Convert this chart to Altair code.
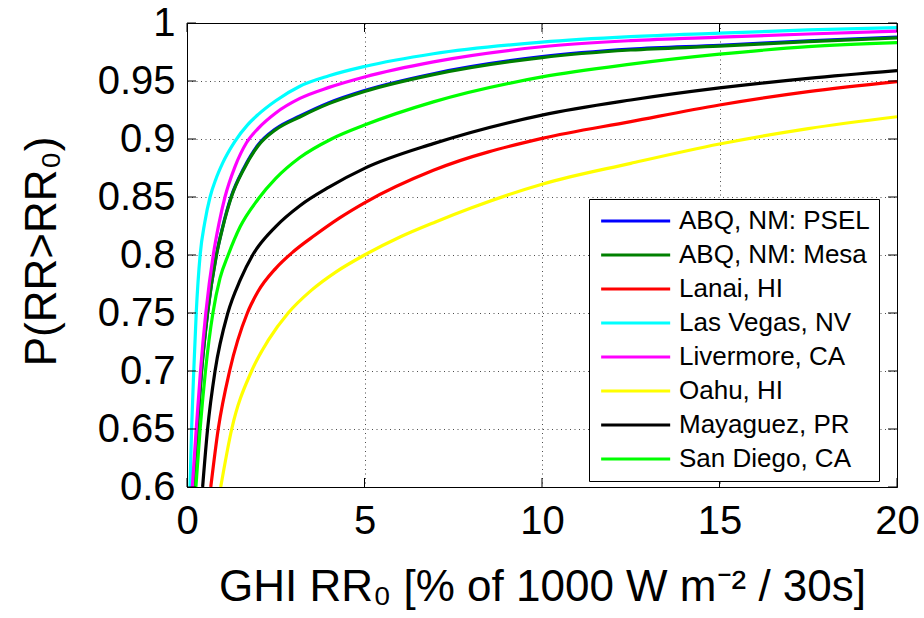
import altair as alt
import pandas as pd

names = ["ABQ, NM: PSEL", "ABQ, NM: Mesa", "Lanai, HI", "Las Vegas, NV",
         "Livermore, CA", "Oahu, HI", "Mayaguez, PR", "San Diego, CA"]
colors = ["#0000ff", "#008000", "#ff0000", "#00ffff",
          "#ff00ff", "#ffff00", "#000000", "#00ff00"]

mesa_x = [0.17, 0.29, 0.41, 0.58, 0.83, 1.0, 1.25, 1.6, 2.0, 2.5, 3.18, 4.0, 5, 6.94, 10, 12.5, 15, 17.5, 20]
mesa_y = [0.60, 0.65, 0.70, 0.75, 0.80, 0.823, 0.85, 0.874, 0.894, 0.908, 0.919, 0.9305, 0.941, 0.9555, 0.9702, 0.9767, 0.980, 0.9839, 0.9872]

psel_x = [0.17, 0.29, 0.41, 0.58, 0.83, 1.0, 1.25, 1.6, 2.0, 2.5, 3.18, 4.0, 5, 6.94, 10, 12.5, 15, 17.5, 20]
psel_y = [0.60, 0.65, 0.70, 0.75, 0.8005, 0.8237, 0.8508, 0.8748, 0.8948, 0.9088, 0.9198, 0.9313, 0.9418, 0.9563, 0.9710, 0.9775, 0.9808, 0.9846, 0.9878]

lanai_x = [0.67, 0.88, 1.2, 1.7, 2.0, 2.5, 3.0, 3.6, 4.3, 5, 6.94, 10, 12.5, 15, 17.5, 20]
lanai_y = [0.60, 0.65, 0.70, 0.75, 0.7685, 0.7885, 0.803, 0.817, 0.832, 0.845, 0.873, 0.9005, 0.915, 0.9293, 0.9408, 0.9495]

vegas_x = [0.085, 0.13, 0.19, 0.26, 0.37, 0.5, 0.65, 0.82, 1.0, 1.35, 1.7, 2.0, 2.5, 3.18, 4.0, 5, 6.94, 10, 12.5, 15, 17.5, 20]
vegas_y = [0.60, 0.65, 0.70, 0.75, 0.80, 0.828, 0.85, 0.866, 0.879, 0.898, 0.912, 0.921, 0.933, 0.9455, 0.9545, 0.9625, 0.9735, 0.9835, 0.9882, 0.9912, 0.994, 0.996]

liver_x = [0.15, 0.26, 0.38, 0.53, 0.74, 0.9, 1.07, 1.35, 1.68, 2.0, 2.5, 3.18, 4.0, 5, 6.94, 10, 12.5, 15, 17.5, 20]
liver_y = [0.60, 0.65, 0.70, 0.75, 0.80, 0.827, 0.85, 0.876, 0.897, 0.909, 0.9225, 0.935, 0.9445, 0.9535, 0.9665, 0.9795, 0.9848, 0.9878, 0.9905, 0.993]

oahu_x = [0.95, 1.26, 1.82, 2.3, 2.85, 3.5, 4.2, 5, 6.0, 7.0, 8.0, 10, 12.5, 15, 17.5, 20]
oahu_y = [0.60, 0.65, 0.70, 0.727, 0.75, 0.7695, 0.7855, 0.80, 0.8155, 0.8285, 0.8405, 0.861, 0.879, 0.8957, 0.909, 0.9192]

maya_x = [0.44, 0.58, 0.79, 1.15, 1.5, 1.85, 2.5, 3.18, 4.0, 5, 6.94, 10, 12.5, 15, 17.5, 20]
maya_y = [0.60, 0.65, 0.70, 0.75, 0.7785, 0.80, 0.8245, 0.8425, 0.8585, 0.8747, 0.896, 0.9206, 0.9336, 0.944, 0.9523, 0.959]

sd_x = [0.25, 0.37, 0.52, 0.73, 0.93, 1.16, 1.5, 2.0, 2.5, 3.18, 4.07, 5, 6.94, 10, 12.5, 15, 17.5, 20]
sd_y = [0.60, 0.65, 0.70, 0.75, 0.78, 0.80, 0.8245, 0.848, 0.866, 0.884, 0.90, 0.912, 0.932, 0.9535, 0.9645, 0.9731, 0.9796, 0.983]

x_ticks = [0, 5, 10, 15, 20]
y_ticks = [0.6, 0.65, 0.7, 0.75, 0.8, 0.85, 0.9, 0.95, 1.0]

series_xy = [(psel_x, psel_y), (mesa_x, mesa_y), (lanai_x, lanai_y), (vegas_x, vegas_y),
             (liver_x, liver_y), (oahu_x, oahu_y), (maya_x, maya_y), (sd_x, sd_y)]

rows = []
for n, (xs, ys) in zip(names, series_xy):
    for i, (xv, yv) in enumerate(zip(xs, ys)):
        rows.append({"series": n, "x": xv, "y": yv, "i": i})
df = pd.DataFrame(rows)

FONT = "Liberation Sans"
W, H = 710, 464

x_enc = alt.X("x:Q", scale=alt.Scale(domain=[0, 20], nice=False, zero=False),
              axis=alt.Axis(values=x_ticks, format="d", grid=True, ticks=False, domain=False,
                            labelFontSize=40, labelPadding=14, labelFlush=False,
                            title="GHI RR\u2080 [% of 1000 W m\u207b\u00b2 / 30s]",
                            titleFontSize=44, titleX=355, titleY=113,
                            titleBaseline="alphabetic", titleAlign="center"))
y_enc = alt.Y("y:Q", scale=alt.Scale(domain=[0.6, 1.0], nice=False, zero=False),
              axis=alt.Axis(values=y_ticks, format="~g", grid=True, ticks=False, domain=False,
                            labelFontSize=40, labelPadding=12, labelFlush=False,
                            title="P(RR>RR\u2080)", titleFontSize=44,
                            titleX=-132, titleY=228, titleAngle=270,
                            titleBaseline="alphabetic", titleAlign="center"))
color_enc = alt.Color("series:N", scale=alt.Scale(domain=names, range=colors),
                      legend=alt.Legend(title=None, orient="none", legendX=402, legendY=176,
                                        symbolType="M-1,0H6", symbolSize=389,
                                        symbolStrokeWidth=3.2, labelFontSize=26,
                                        labelFont=FONT, labelColor="black", labelLimit=500,
                                        labelOffset=55, rowPadding=8,
                                        strokeColor="black", fillColor="white",
                                        padding=9))

base = alt.Chart(df)
layers = []
for n in names:
    layers.append(
        base.transform_filter(alt.datum.series == n)
        .mark_line(strokeWidth=3.2, interpolate="monotone", clip=True)
        .encode(x=x_enc, y=y_enc, color=color_enc, order="i:Q")
    )

xt = alt.Chart(pd.DataFrame({"x": x_ticks}))
yt = alt.Chart(pd.DataFrame({"y": y_ticks}))
tick_layers = [
    xt.mark_rule(color="black", strokeWidth=1).encode(x=x_enc, y=alt.value(H - 9), y2=alt.value(H)),
    xt.mark_rule(color="black", strokeWidth=1).encode(x=x_enc, y=alt.value(0), y2=alt.value(9)),
    yt.mark_rule(color="black", strokeWidth=1).encode(y=y_enc, x=alt.value(0), x2=alt.value(9)),
    yt.mark_rule(color="black", strokeWidth=1).encode(y=y_enc, x=alt.value(W - 9), x2=alt.value(W)),
]

chart = alt.layer(*layers, *tick_layers).properties(
    width=W, height=H,
    padding={"left": 187, "top": 23, "right": 27, "bottom": 131},
    autosize=alt.AutoSizeParams(type="none"),
    background="white",
).configure_view(
    stroke="black", strokeWidth=1
).configure_axis(
    labelFont=FONT, titleFont=FONT, labelColor="black", titleColor="black",
    titleFontWeight="normal", gridColor="black", gridOpacity=0.7,
    gridDash=[1, 3.5], gridWidth=1
)

chart.save("out.html", embed_options={"renderer": "svg", "actions": False})
